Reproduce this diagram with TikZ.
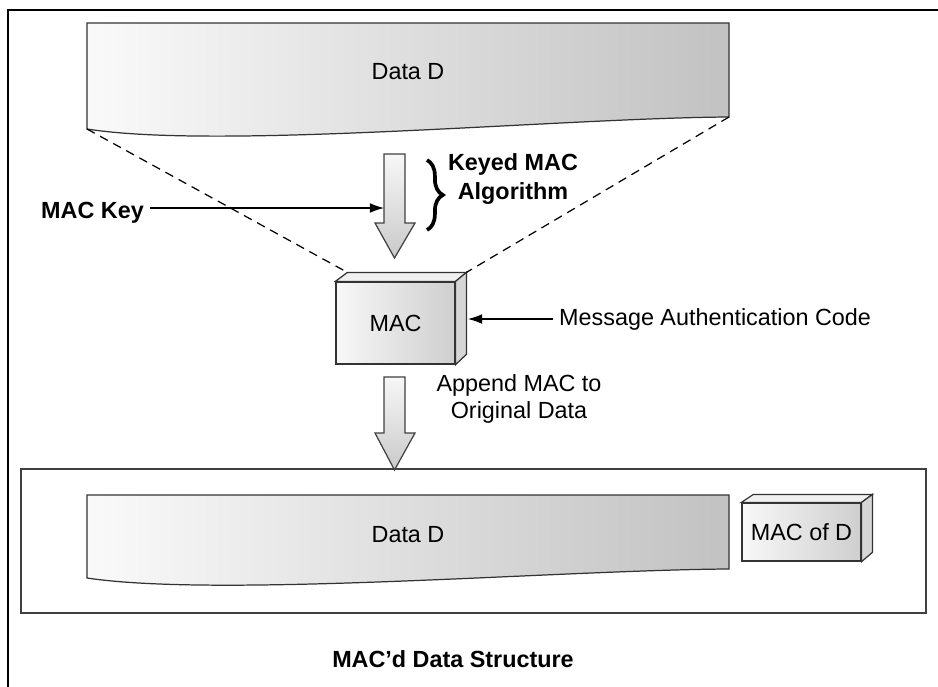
\documentclass[tikz,border=0pt]{standalone}
\usepackage{fontspec}
\setmainfont{Liberation Sans}
\usetikzlibrary{positioning}
\usetikzlibrary{arrows.meta}
\usetikzlibrary{decorations.pathreplacing}
\tikzset{
    datastrip/.style = {draw=black!80, line width=0.7pt, left color=gray!4, right color=gray!48},
    macbox/.style = {rectangle, draw=black!80, line width=0.7pt, left color=gray!6, right color=gray!38,font=\fontsize{13.3}{16}\selectfont},
    boxtop/.style = {draw=black!80, line width=0.7pt, fill=gray!12},
    boxside/.style = {draw=black!80, line width=0.7pt, fill=gray!32},
    bigarrow/.style = {draw=black!75, line width=0.7pt, top color=gray!6, bottom color=gray!42},
    structbox/.style = {rectangle, draw=black!75, line width=0.8pt},
    edgen/.style = {-{Latex[length=8pt,width=5.5pt]}, line width=0.6pt},
    zoomline/.style = {line width=0.7pt, dash pattern=on 5pt off 3.5pt}, % data to MAC
    keybrace/.style = {decorate, decoration={brace, amplitude=9pt}, line width=2.1pt},
    frameline/.style = {line width=0.9pt},
    lbl/.style = {font=\fontsize{13.3}{15}\selectfont},
    lblb/.style = {font=\fontsize{13.3}{16}\selectfont\bfseries}
}
\begin{document}
\begin{tikzpicture}[x=0.02cm,y=-0.02cm]
  \useasboundingbox (0,0) rectangle (938,687);
  \draw[frameline] (8,687) -- (8,10) -- (938,10);

  % original data
  \path[datastrip] (87,23) -- (729,23) -- (729,117) .. controls (560,118) and (220,150) .. (87,129) -- cycle;
  \node[lbl] (data) at (408,72) {Data D};
  \coordinate (dbl) at (87,129);
  \coordinate (dbr) at (729,117);

  % keyed MAC algorithm
  \path[bigarrow] (384,154) -- (405,154) -- (405,223) -- (415,223) -- (394.5,258) -- (375,223) -- (384,223) -- cycle;
  \draw[keybrace] (427,160) -- (427,230);
  \node[lblb, align=center] (alg) at (513,179) {Keyed MAC\\Algorithm};
  \node[lblb, anchor=base west] (key) at (35,218) {MAC Key};
  \coordinate (shaft) at (384,208);
  \draw[edgen] (key.east |- shaft) -- (shaft);

  % MAC box
  \node[macbox, minimum width=2.38cm, minimum height=1.64cm] (mac) at (395.5,323) {MAC};
  \draw[boxtop] (mac.north west) -- ++(12,-9) coordinate (mtl) -- ++(119,0) coordinate (mtr) -- (mac.north east) -- cycle;
  \draw[boxside] (mac.north east) -- (mtr) -- ++(0,82) -- (mac.south east) -- cycle;
  \draw[zoomline] (dbl) -- (mtl);
  \draw[zoomline] (dbr) -- (mtr);
  \node[lbl, anchor=west] (msg) at (553,319) {Message Authentication Code};
  \coordinate (macside) at (468,319);
  \draw[edgen] (msg.west) -- (macside);

  % append
  \path[bigarrow] (384,377) -- (405,377) -- (405,433) -- (415,433) -- (394.5,470) -- (375,433) -- (384,433) -- cycle;
  \node[lbl, align=center] (app) at (519,399) {Append MAC to\\Original Data};

  % MAC'd structure
  \node[structbox, minimum width=18.1cm, minimum height=2.88cm] (struct) at (473.5,541) {};
  \path[datastrip] (87,495) -- (729,495) -- (729,569) .. controls (560,570) and (220,598) .. (87,578) -- cycle;
  \node[lbl] (data2) at (408,535) {Data D};
  \node[macbox, minimum width=2.38cm, minimum height=1.16cm] (macd) at (801.5,532) {MAC of D};
  \draw[boxtop] (macd.north west) -- ++(12,-8) coordinate (dtl) -- ++(119,0) coordinate (dtr) -- (macd.north east) -- cycle;
  \draw[boxside] (macd.north east) -- (dtr) -- ++(0,58) -- (macd.south east) -- cycle;
  \node[lblb] (structlbl) at (453,659) {MAC'd Data Structure};
\end{tikzpicture}
\end{document}
